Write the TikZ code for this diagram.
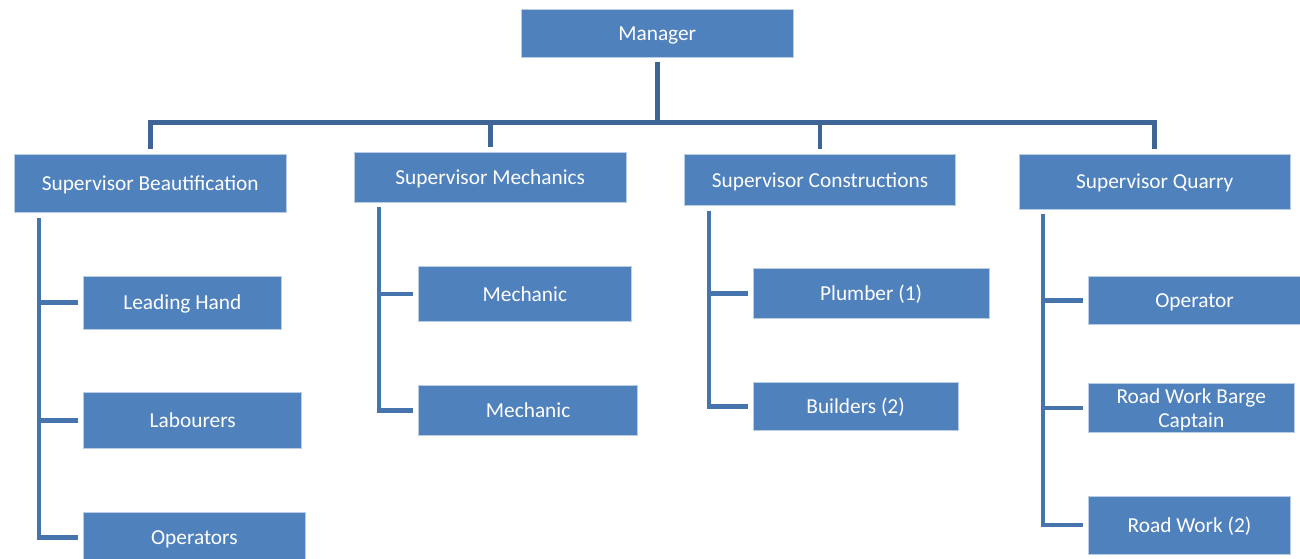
\documentclass[tikz,border=0pt]{standalone}
\usepackage{fontspec}
\setmainfont{Carlito}
\usetikzlibrary{calc}

\definecolor{boxblue}{HTML}{4F81BD}
\definecolor{boxedge}{HTML}{B9CDE5}
\definecolor{trunkblue}{HTML}{3E6596}
\definecolor{branchblue}{HTML}{4674AD}

\tikzset{
  unit/.style={x=0.75pt, y=-0.75pt},
  orgbox/.style={rectangle, fill=boxblue, draw=boxedge, line width=0.6pt,
    text=white, font=\fontsize{16}{17.6}\selectfont, align=center,
    inner sep=0pt},
  oneline/.style={text height=14pt, text depth=3.1pt},
  trunk/.style={draw=trunkblue, line width=3.6pt, line join=miter},
  branch/.style={draw=branchblue, line width=3.4pt, line join=miter},
}

\begin{document}
\begin{tikzpicture}[unit]
\useasboundingbox (0,0) rectangle (1300,558);
\clip (0,0) rectangle (1300,558);

% boxes: centre in pixels, sizes in pixels
\newcommand\orgnode[6]{%
  \node[orgbox, oneline, minimum width={#4*0.75pt}, minimum height={#5*0.75pt}]
    (#1) at (#2,#3) {#6};}

\orgnode{man}{657.25}{33}{271.5}{48}{Manager}

\orgnode{sb}{150.25}{183.5}{271.5}{58.4}{Supervisor Beautification}
\orgnode{sm}{490.25}{177.35}{271.5}{49.3}{Supervisor Mechanics}
\orgnode{sc}{820}{179.8}{271.2}{51}{Supervisor Constructions}
\orgnode{sq}{1154.75}{181.65}{271.5}{54.7}{Supervisor Quarry}

\orgnode{lh}{182.35}{302.5}{197.3}{53}{Leading Hand}
\orgnode{lab}{192.75}{420.7}{218}{56}{Labourers}
\orgnode{ops}{194.35}{537.7}{221.3}{51}{Operators}

\orgnode{mecA}{524.85}{294}{212.3}{54.6}{Mechanic}
\orgnode{mecB}{528.15}{410.3}{218.9}{50}{Mechanic}

\orgnode{pl}{871.1}{293.5}{235.8}{49.6}{Plumber (1)}
\orgnode{bu}{855.6}{406.5}{204.8}{48.4}{Builders (2)}

\orgnode{op}{1194.6}{300.5}{212}{47.6}{Operator}
\node[orgbox, minimum width={205.3*0.75pt}, minimum height={49.4*0.75pt}]
  (rwb) at (1191.25,408) {\rule{0pt}{13.5pt}Road Work Barge\\Captain};
\orgnode{rw}{1189.55}{525}{201.9}{58}{Road Work (2)}

% manager to supervisors
\coordinate (bar) at (0,122.5);
\draw[trunk] ($(man.south)+(0,5)$) -- (man.south |- bar);
\draw[trunk] ($(sb.north)+(0,-5)$) -- (sb.north |- bar) -- (sq.north |- bar)
  -- ($(sq.north)+(0,-5)$);
\draw[trunk] (sm.north |- bar) -- ($(sm.north)+(0,-5)$);
\draw[trunk] (sc.north |- bar) -- ($(sc.north)+(0,-5)$);

% supervisors to their staff
\coordinate (bB) at ($(sb.south west)+(25,5)$);
\coordinate (bM) at ($(sm.south west)+(25,5)$);
\coordinate (bC) at ($(sc.south west)+(25,5)$);
\coordinate (bQ) at ($(sq.south west)+(24.5,5)$);

\draw[branch] (bB) |- ($(ops.west)+(-5,0)$);
\draw[branch] (bB |- lh.west) -- ($(lh.west)+(-5,0)$);
\draw[branch] (bB |- lab.west) -- ($(lab.west)+(-5,0)$);

\draw[branch] (bM) |- ($(mecB.west)+(-5,0)$);
\draw[branch] (bM |- mecA.west) -- ($(mecA.west)+(-5,0)$);

\draw[branch] (bC) |- ($(bu.west)+(-5,0)$);
\draw[branch] (bC |- pl.west) -- ($(pl.west)+(-5,0)$);

\draw[branch] (bQ) |- ($(rw.west)+(-5,0)$);
\draw[branch] (bQ |- op.west) -- ($(op.west)+(-5,0)$);
\draw[branch] (bQ |- rwb.west) -- ($(rwb.west)+(-5,0)$);
\end{tikzpicture}
\end{document}
